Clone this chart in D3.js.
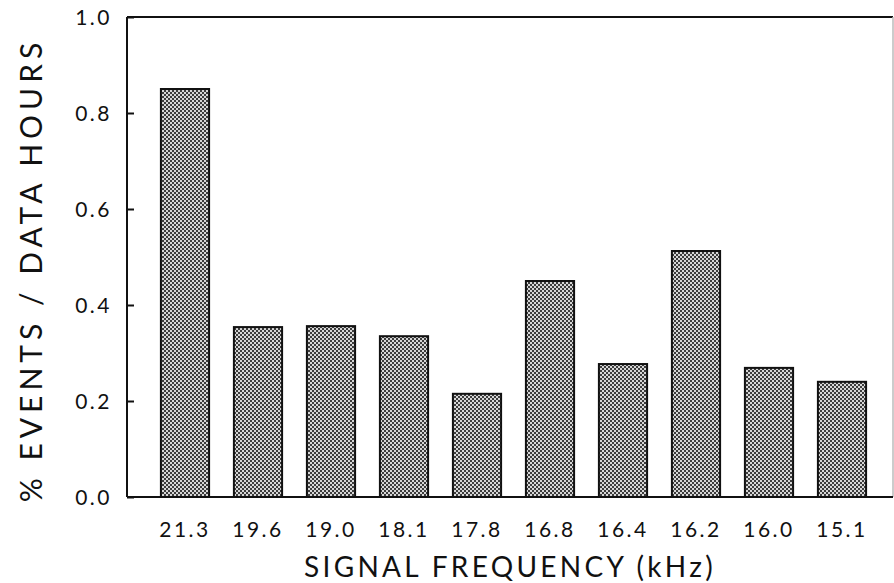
<!DOCTYPE html>
<html>
<head>
<meta charset="utf-8">
<script src="https://cdn.jsdelivr.net/npm/d3@7"></script>
<style>
  html, body { margin: 0; padding: 0; background: #fff; }
  svg { display: block; }
  text { font-family: "Lato", "DejaVu Sans", sans-serif; fill: #111; }
</style>
</head>
<body>
<svg id="chart" width="894" height="583"></svg>
<script>
// Occurrence rate per signal frequency
const frequencies = ["21.3", "19.6", "19.0", "18.1", "17.8", "16.8", "16.4", "16.2", "16.0", "15.1"];
const rates = [0.85, 0.354, 0.356, 0.335, 0.215, 0.45, 0.277, 0.5125, 0.269, 0.24];
const yTicks = [0.0, 0.2, 0.4, 0.6, 0.8, 1.0];

const svg = d3.select("#chart");
const frame = { left: 127, right: 893, top: 17, bottom: 497 };

const x = d3.scaleBand()
  .domain(frequencies)
  .range([148.5, 878.5])
  .paddingInner(0.34)
  .paddingOuter(0.17);

const y = d3.scaleLinear().domain([0, 1]).range([frame.bottom, frame.top]);

// checkered halftone fill
const defs = svg.append("defs");
const pat = defs.append("pattern")
  .attr("id", "checker")
  .attr("patternUnits", "userSpaceOnUse")
  .attr("width", 4).attr("height", 4);
pat.append("rect").attr("width", 4).attr("height", 4).attr("fill", "#3c3c3c");
pat.append("rect").attr("x", 0).attr("y", 0).attr("width", 2).attr("height", 2).attr("fill", "#d6d6d6");
pat.append("rect").attr("x", 2).attr("y", 2).attr("width", 2).attr("height", 2).attr("fill", "#d6d6d6");

// bars
svg.append("g").selectAll("rect")
  .data(frequencies.map((f, i) => ({ f, v: rates[i] })))
  .join("rect")
  .attr("x", d => x(d.f))
  .attr("y", d => y(d.v))
  .attr("width", x.bandwidth())
  .attr("height", d => y(0) - y(d.v))
  .attr("fill", "url(#checker)")
  .attr("stroke", "#111")
  .attr("stroke-width", 2);

// frame
svg.append("line")
  .attr("x1", frame.left).attr("x2", frame.right)
  .attr("y1", frame.top).attr("y2", frame.top)
  .attr("stroke", "#111").attr("stroke-width", 2);
svg.append("line")
  .attr("x1", frame.right).attr("x2", frame.right)
  .attr("y1", frame.top).attr("y2", frame.bottom)
  .attr("stroke", "#bbb").attr("stroke-width", 1.5);

// y axis with inward ticks
const yAxis = d3.axisRight(y)
  .tickValues(yTicks)
  .tickSize(7)
  .tickFormat(d3.format(".1f"));
const gy = svg.append("g")
  .attr("transform", `translate(${frame.left},0)`)
  .call(yAxis);
gy.select(".domain").attr("stroke", "#111").attr("stroke-width", 2).attr("d", `M0,${frame.top}V${frame.bottom}`);
gy.selectAll(".tick line").attr("stroke", "#111").attr("stroke-width", 2);
gy.selectAll(".tick text")
  .attr("x", -15)
  .attr("dy", "0.35em")
  .attr("text-anchor", "end")
  .style("font-size", "21px")
  .style("letter-spacing", "2.5px");

// x axis
const xAxis = d3.axisBottom(x).tickSize(0).tickPadding(25);
const gx = svg.append("g")
  .attr("transform", `translate(0,${frame.bottom})`)
  .call(xAxis);
gx.select(".domain").attr("stroke", "#111").attr("stroke-width", 2).attr("d", `M${frame.left},0H${frame.right}`);
gx.selectAll(".tick text")
  .style("font-size", "21px")
  .style("letter-spacing", "2.5px");

// axis titles
svg.append("text")
  .attr("x", 510).attr("y", 577)
  .attr("text-anchor", "middle")
  .style("font-size", "28px")
  .style("letter-spacing", "3.3px")
  .text("SIGNAL FREQUENCY (kHz)");

svg.append("text")
  .attr("transform", "translate(42,270) rotate(-90)")
  .attr("text-anchor", "middle")
  .style("font-size", "30px")
  .style("letter-spacing", "5px")
  .text("% EVENTS / DATA HOURS");
</script>
</body>
</html>
